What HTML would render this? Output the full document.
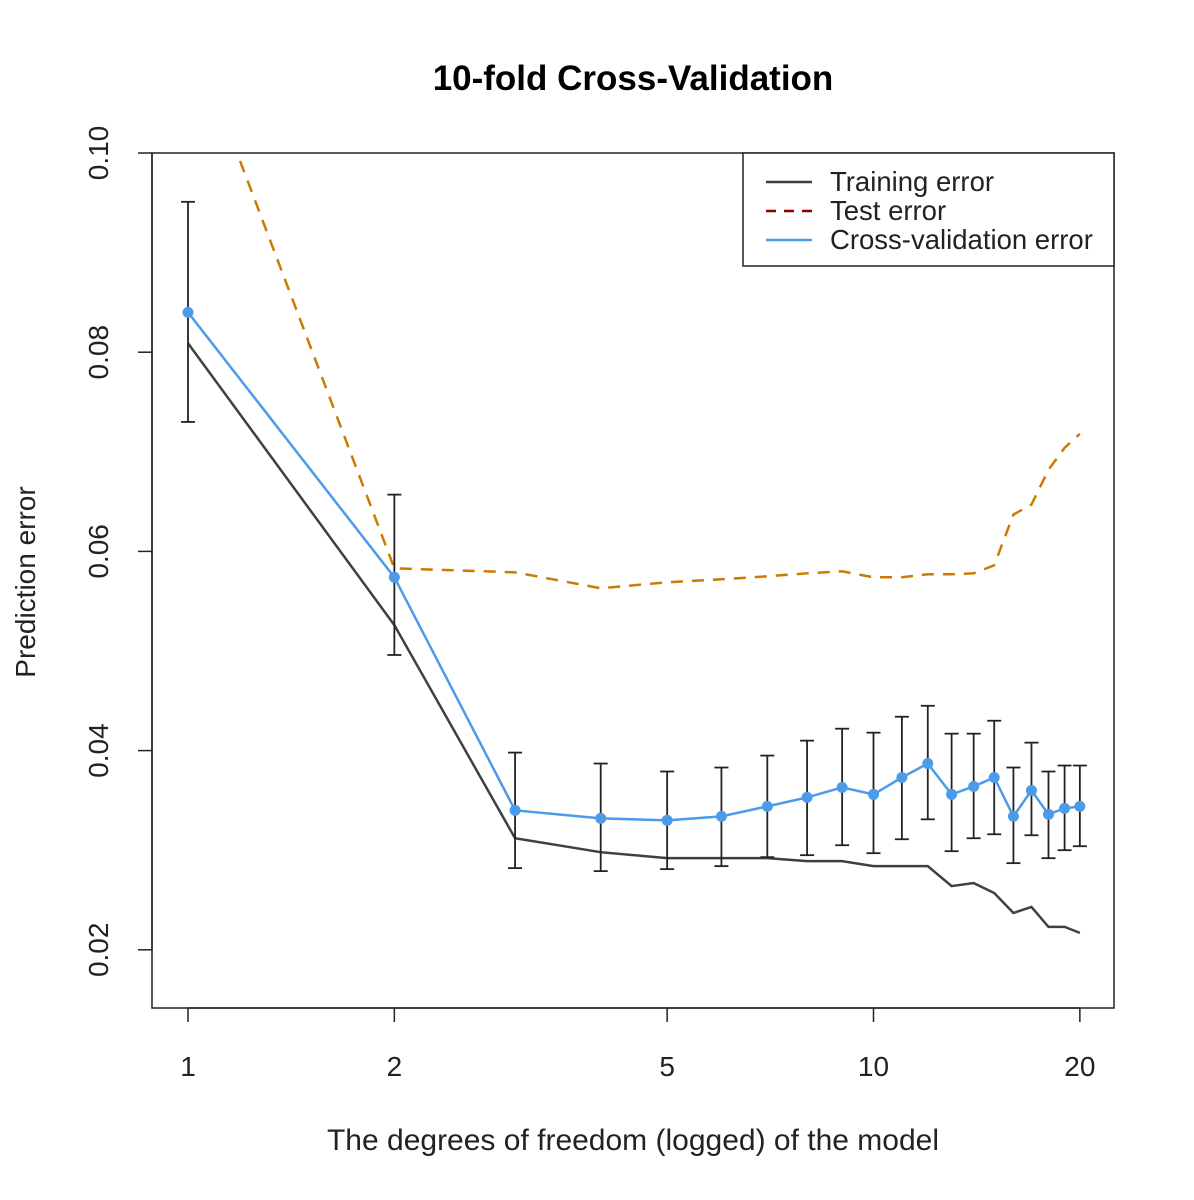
<!DOCTYPE html>
<html><head><meta charset="utf-8"><style>
body{margin:0;background:#fff}
svg{display:block;font-family:"Liberation Sans",Arial,sans-serif}
</style></head><body>
<svg id="chart" width="1194" height="1200" viewBox="0 0 1194 1200">
<defs><clipPath id="clip"><rect x="152" y="153" width="962" height="855"/></clipPath></defs>
<text x="633" y="90" text-anchor="middle" font-size="35" font-weight="bold">10-fold Cross-Validation</text>
<rect x="152" y="153" width="962" height="855" fill="none" stroke="#222" stroke-width="1.5"/>
<g id="xaxis"></g>
<g id="yaxis"></g>
<text x="633" y="1150" text-anchor="middle" font-size="30" fill="#222">The degrees of freedom (logged) of the model</text>
<text transform="translate(35,582) rotate(-90)" text-anchor="middle" font-size="28" fill="#222">Prediction error</text>
<g id="series" clip-path="url(#clip)"></g>
<g id="bars"></g>
<g>
<rect x="743" y="153" width="371" height="113" fill="#fff" stroke="#222" stroke-width="1.5"/>
<line x1="766" y1="182" x2="812" y2="182" stroke="#404040" stroke-width="2.5"/>
<text x="830" y="191" font-size="27.5" fill="#222">Training error</text>
<line x1="766" y1="211" x2="812" y2="211" stroke="#8B0000" stroke-width="2.5" stroke-dasharray="10,8"/>
<text x="830" y="220" font-size="27.5" fill="#222">Test error</text>
<line x1="766" y1="240" x2="812" y2="240" stroke="#4C9BE8" stroke-width="2.5"/>
<text x="830" y="249" font-size="27.5" fill="#222">Cross-validation error</text>
</g>
</svg>
<script>
const dfs=[1,2,3,4,5,6,7,8,9,10,11,12,13,14,15,16,17,18,19,20];
const cvErr=[0.0840,0.0574,0.0340,0.0332,0.0330,0.0334,0.0344,0.0353,0.0363,0.0356,0.0373,0.0387,0.0356,0.0364,0.0373,0.0334,0.0360,0.0336,0.0342,0.0344];
const cvUpper=[0.0951,0.0657,0.0398,0.0387,0.0379,0.0383,0.0395,0.0410,0.0422,0.0418,0.0434,0.0445,0.0417,0.0417,0.0430,0.0383,0.0408,0.0379,0.0385,0.0385];
const cvLower=[0.0730,0.0496,0.0282,0.0279,0.0281,0.0284,0.0293,0.0295,0.0305,0.0297,0.0311,0.0331,0.0299,0.0312,0.0316,0.0287,0.0315,0.0292,0.0300,0.0304];
const trainErr=[0.0809,0.0526,0.0312,0.0298,0.0292,0.0292,0.0292,0.0289,0.0289,0.0284,0.0284,0.0284,0.0264,0.0267,0.0257,0.0237,0.0243,0.0223,0.0223,0.0217];
const testErr=[0.1130,0.0583,0.0579,0.0563,0.0569,0.0572,0.0575,0.0578,0.0580,0.0574,0.0574,0.0577,0.0577,0.0578,0.0586,0.0637,0.0647,0.0682,0.0704,0.0718];
const xTicks=[1,2,5,10,20];
const yTicks=[0.02,0.04,0.06,0.08,0.10];
const yTickLabels=["0.02","0.04","0.06","0.08","0.10"];

const NS="http://www.w3.org/2000/svg";
const X=v=>188+Math.log10(v)*685.5;
const Y=v=>153+(0.10-v)/0.001*9.96;
function mk(tag,attrs,parent){const e=document.createElementNS(NS,tag);for(const k in attrs)e.setAttribute(k,attrs[k]);parent.appendChild(e);return e;}
const xa=document.getElementById('xaxis'),ya=document.getElementById('yaxis');
mk('line',{x1:X(1),x2:X(20),y1:1008,y2:1008,stroke:'#222','stroke-width':1.5},xa);
xTicks.forEach(t=>{
  mk('line',{x1:X(t),x2:X(t),y1:1008,y2:1022,stroke:'#222','stroke-width':1.5},xa);
  const tx=mk('text',{x:X(t),y:1076,'text-anchor':'middle','font-size':28,fill:'#222'},xa);tx.textContent=t;
  
  
});
mk('line',{x1:152,x2:152,y1:Y(0.02),y2:Y(0.10),stroke:'#222','stroke-width':1.5},ya);
yTicks.forEach((t,i)=>{
  mk('line',{x1:138,x2:152,y1:Y(t),y2:Y(t),stroke:'#222','stroke-width':1.5},ya);
  const tx=mk('text',{transform:`translate(108,${Y(t)}) rotate(-90)`,'text-anchor':'middle','font-size':28,fill:'#222'},ya);tx.textContent=yTickLabels[i];
  
  
});
const s=document.getElementById('series');
const pts=arr=>arr.map((v,i)=>X(dfs[i])+','+Y(v)).join(' ');
const tl=mk('polyline',{points:pts(testErr),fill:'none',stroke:'#CC7A00','stroke-width':2.5,'stroke-dasharray':'12,9'},s);


const trl=mk('polyline',{points:pts(trainErr),fill:'none',stroke:'#404040','stroke-width':2.5},s);


const b=document.getElementById('bars');
dfs.forEach((d,i)=>{
  const x=X(d);
  const g=mk('g',{stroke:'#222','stroke-width':1.8},b);
  
  
  mk('line',{x1:x,x2:x,y1:Y(cvUpper[i]),y2:Y(cvLower[i])},g);
  mk('line',{x1:x-7,x2:x+7,y1:Y(cvUpper[i]),y2:Y(cvUpper[i])},g);
  mk('line',{x1:x-7,x2:x+7,y1:Y(cvLower[i]),y2:Y(cvLower[i])},g);
});
const cl=mk('polyline',{points:pts(cvErr),fill:'none',stroke:'#4C9BE8','stroke-width':2.5},b);


dfs.forEach((d,i)=>{
  const c=mk('circle',{cx:X(d),cy:Y(cvErr[i]),r:5.5,fill:'#4C9BE8'},b);
  
  
});
</script>
</body></html>
